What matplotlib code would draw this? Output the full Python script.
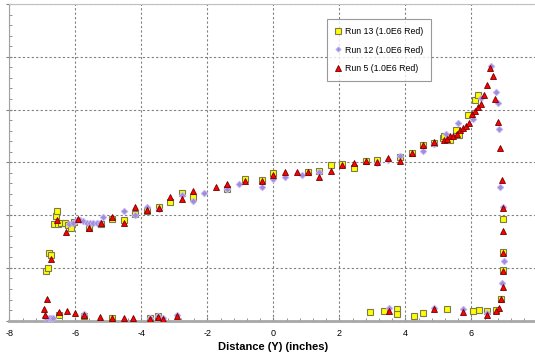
import numpy as np
import matplotlib
matplotlib.use("Agg")
import matplotlib.pyplot as plt
from matplotlib.ticker import MultipleLocator

plt.rcParams['font.family'] = ['Liberation Sans', 'DejaVu Sans']
plt.rcParams['axes.unicode_minus'] = False

# Run 13 (yellow squares)
x13 = [-6.89, -6.84, -6.80, -6.73, -6.65, -6.59, -6.55, -6.53, -6.43, -6.31, -6.23, -6.14, -6.03,
       -5.58, -5.21, -4.88, -4.52, -4.18, -3.83, -3.47, -3.13, -2.78, -2.43, -1.39, -0.87, -0.35,
       0.00, 1.06, 1.39, 1.75, 2.09, 2.45, 2.80, 3.15, 3.84, 4.19, 4.54, 4.88, 5.15, 5.17, 5.35,
       5.54, 5.63, 5.91, 6.10, 6.19,
       6.96, 6.97, 6.97, 6.91, 6.75, 6.48, 6.24, 6.04, 5.25, 4.53, 4.27, 3.74, 3.74, 3.35, 2.93,
       -6.48, -5.74, -4.88, -3.75, -3.49]
y13 = [0.94, 0.99, 1.28, 1.25, 1.83, 1.99, 2.07, 1.83, 1.85, 1.85, 1.82, 1.76, 1.87,
       1.75, 1.83, 1.93, 1.91, 2.02, 2.07, 2.16, 2.24, 2.41, 2.35, 2.50, 2.68, 2.67,
       2.79, 2.82, 2.84, 2.95, 2.97, 2.89, 3.02, 3.05, 3.11, 3.18, 3.33, 3.36, 3.47, 3.49, 3.43,
       3.62, 3.52, 3.90, 4.18, 4.27,
       1.92, 1.31, 0.96, 0.42, 0.20, 0.19, 0.20, 0.18, 0.22, 0.15, 0.08, 0.22, 0.12, 0.18, 0.17,
       0.10, 0.08, 0.06, 0.05, 0.09]

# Run 12 (purple diamonds)
x12 = [-6.92, -6.86, -6.80, -6.74, -6.68, -5.73, -3.75, -3.49, -3.33, -2.92,
       -6.18, -6.06, -5.96, -5.86, -5.76, -5.65, -5.55, -5.45, -5.35, -5.25, -5.15,
       -4.52, -4.18, -3.83, -3.47, -2.78, -2.43, -2.09, -1.39, -1.04, -0.35, 0.00, 0.35, 0.88,
       1.39, 3.15, 3.48, 3.84, 4.54, 4.88, 5.22, 5.59, 6.06, 6.28, 6.60, 6.74, 6.80, 6.84,
       6.88, 6.97, 6.98, 6.93, 3.51, 4.88, 5.74, 6.48]
y12 = [0.07, 0.04, 0.05, 0.06, 0.05, 0.12, 0.06, 0.09, 0.05, 0.11,
       1.83, 1.86, 1.90, 1.91, 1.88, 1.86, 1.85, 1.85, 1.86, 1.86, 1.96,
       2.07, 2.00, 2.15, 2.11, 2.38, 2.26, 2.42, 2.50, 2.59, 2.54, 2.69, 2.72, 2.76,
       2.81, 2.98, 3.05, 3.12, 3.22, 3.35, 3.54, 3.74, 3.82, 4.22, 4.82, 4.33, 4.12, 3.63,
       2.54, 2.16, 1.14, 0.72, 0.24, 0.24, 0.22, 0.15]

# Run 5 (red triangles)
x5 = [-6.96, -6.91, -6.87, -6.73, -6.55, -6.27, -5.91, -5.58, -5.21, -4.88, -4.52, -4.18, -3.83,
      -3.47, -3.13, -2.78, -2.43, -1.74, -1.39, -0.87, -0.35, 0.00, 0.35, 0.71, 1.06, 1.39, 1.75,
      2.09, 2.45, 2.80, 3.15, 3.48, 3.84, 4.19, 4.54, 4.88, 5.17, 5.25, 5.35, 5.45, 5.56, 5.66,
      5.76, 5.83, 5.93, 6.02, 6.10, 6.19, 6.28, 6.38, 6.48, 6.57, 6.67, 6.73, 6.82, 6.87, 6.92,
      6.95, 6.96, 6.97, 6.97, 6.95, 6.91, 6.85, 6.75, 6.48, 5.74, 4.88, 3.51,
      -6.48, -6.25, -6.01, -5.74, -5.25, -4.88, -4.52, -4.26, -3.75, -3.49, -3.33, -2.92]
y5 = [0.22, 0.11, 0.41, 1.16, 1.90, 1.68, 1.93, 1.75, 1.85, 1.96, 1.85, 2.16, 2.10,
      2.14, 2.34, 2.31, 2.46, 2.53, 2.59, 2.65, 2.65, 2.76, 2.81, 2.81, 2.81, 2.72, 2.84,
      2.95, 2.98, 3.03, 3.01, 3.09, 3.03, 3.18, 3.32, 3.39, 3.43, 3.44, 3.49, 3.49, 3.53, 3.62,
      3.65, 3.69, 3.74, 3.91, 3.98, 4.04, 4.11, 4.28, 4.47, 4.78, 4.64, 4.20, 3.77, 3.28, 2.67,
      2.13, 1.69, 1.29, 0.95, 0.64, 0.42, 0.24, 0.19, 0.11, 0.17, 0.22, 0.18,
      0.16, 0.18, 0.15, 0.10, 0.07, 0.06, 0.06, 0.06, 0.04, 0.07, 0.04, 0.09]

fig = plt.figure(figsize=(5.35, 3.62), dpi=100)
ax = fig.add_axes([9.3 / 535, 41.3 / 362, 528 / 535, 316.7 / 362])

ax.plot(x13, y13, 's', ms=4.6, mfc='#FFFF00', mec='#7A7A50', mew=0.8, label='Run 13 (1.0E6 Red)', zorder=3)
ax.plot(x12, y12, 'D', ms=3.4, mfc='#A08CE0', mec='#C8B8F0', mew=0.6, label='Run 12 (1.0E6 Red)', zorder=4)
ax.plot(x5, y5, '^', ms=4.8, mfc='#FF0000', mec='#700000', mew=0.6, label='Run 5 (1.0E6 Red)', zorder=5)

ax.set_xlim(-8, 8)
ax.set_ylim(0, 6)
ax.xaxis.set_major_locator(MultipleLocator(2))
ax.xaxis.set_minor_locator(MultipleLocator(0.4))
ax.yaxis.set_major_locator(MultipleLocator(1))
ax.yaxis.set_minor_locator(MultipleLocator(0.2))
ax.set_yticklabels([])
ax.grid(True, which='major', linestyle=(0, (2, 2)), color='#808080', linewidth=0.8)
ax.tick_params(axis='x', which='major', labelsize=6.5, length=3, direction='in', color='#808080', pad=6)
ax.tick_params(axis='x', which='minor', length=2, direction='in', color='#808080')
ax.tick_params(axis='y', which='major', length=4, direction='inout', color='#808080')
ax.tick_params(axis='y', which='minor', length=2, direction='in', color='#808080')

for s in ['top', 'right']:
    ax.spines[s].set_color('#C0C0C0')
ax.spines['left'].set_color('#A0A0A0')
ax.spines['bottom'].set_color('#A8A8A8')
ax.spines['bottom'].set_linewidth(2)

ax.set_xlabel('Distance (Y) (inches)', fontsize=8, fontweight='bold', labelpad=3)

leg = ax.legend(loc='upper left', bbox_to_anchor=(0.594, 0.965), fontsize=6.3, frameon=True,
                fancybox=False, edgecolor='#808080', handlelength=0.7, handletextpad=0.4,
                labelspacing=1.05, borderpad=0.9, numpoints=1, markerscale=0.8)
leg.get_frame().set_linewidth(0.8)

fig.savefig('out.png', dpi=100)
